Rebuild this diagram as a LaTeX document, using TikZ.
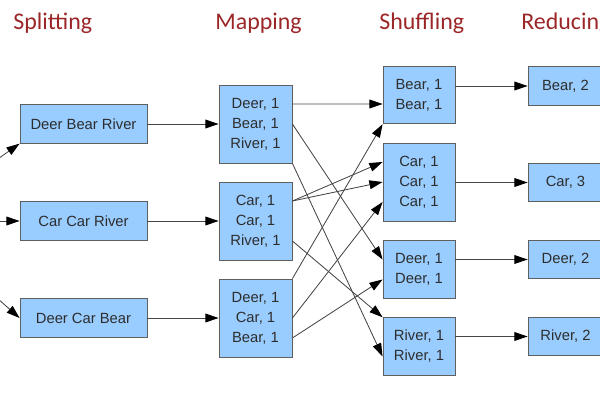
\documentclass[tikz,border=0pt]{standalone}
\usepackage{fontspec}
\setmainfont{Liberation Sans}
\newfontfamily\headfont{Carlito}
\usetikzlibrary{arrows.meta}

\definecolor{boxfill}{RGB}{153,204,255}
\definecolor{boxline}{RGB}{95,95,95}
\definecolor{boxtext}{RGB}{45,45,45}
\definecolor{linkgray}{RGB}{70,70,70}
\definecolor{headred}{RGB}{155,38,40}

\begin{document}
\begin{tikzpicture}
         [x=0.25mm,y=-0.25mm,
          every node/.style={draw=boxline,line width=0.6pt,fill=boxfill,text=boxtext,
                             inner sep=0pt,align=center,font=\fontsize{10.5}{14.2}\selectfont},
          splitbox/.style={minimum width=31.75mm,minimum height=9.6mm},
          mapbox/.style={minimum width=18.25mm,minimum height=19.5mm},
          shufbox/.style={minimum width=18mm,minimum height=14.4mm},
          redbox/.style={minimum width=18.75mm,minimum height=9.6mm},
          header/.style={draw=none,fill=none,text=headred,anchor=base west,
                         font=\headfont\fontsize{17}{20}\selectfont},
          link/.style={draw=linkgray,line width=0.6pt,-{Triangle[length=3.3mm,width=2.2mm,color=black]}}]
         \clip (0,0) rectangle (600,400);

         \node[header] (hSplit) at (13,29)  {Splitting};
         \node[header] (hMap)   at (215,29) {Mapping};
         \node[header] (hShuf)  at (379,29) {Shuffling};
         \node[header] (hRed)   at (521,29) {Reducing};

         \coordinate (input) at (-90,221);

         \node[splitbox] (split1) at (83.5,124) {Deer Bear River};
         \node[splitbox] (split2) at (83.5,221) {Car Car River};
         \node[splitbox] (split3) at (83.5,318) {Deer Car Bear};

         \node[mapbox] (map1) at (255.5,124) {Deer, 1\\Bear, 1\\River, 1};
         \node[mapbox] (map2) at (255.5,221) {Car, 1\\Car, 1\\River, 1};
         \node[mapbox] (map3) at (255.5,318) {Deer, 1\\Car, 1\\Bear, 1};

         \node[shufbox] (shuf1) at (419,95)    {Bear, 1\\Bear, 1};
         \node[shufbox,minimum height=19.5mm] (shuf2) at (419,182) {Car, 1\\Car, 1\\Car, 1};
         \node[shufbox] (shuf3) at (419,269.5) {Deer, 1\\Deer, 1};
         \node[shufbox] (shuf4) at (419,346.5) {River, 1\\River, 1};

         \node[redbox] (red1) at (565.5,86)    {Bear, 2};
         \node[redbox] (red2) at (565.5,182.5) {Car, 3};
         \node[redbox] (red3) at (565.5,259.5) {Deer, 2};
         \node[redbox] (red4) at (565.5,336.5) {River, 2};

         \foreach \from/\to in {input/split1.south west,input/split2.west,input/split3.west,
                                split1/map1,split2/map2,split3/map3}
             \draw[link] (\from) -- (\to);

         % mapped pairs go to their shuffle box (shift of the port in mm)
         \foreach \from/\fy/\to/\ty in {map1.east/5/shuf1.west/-2.25,
                                        map1.east/0/shuf3.west/2.5,
                                        map1.south east/0/shuf4.west/-2.5,
                                        map2.east/5/shuf2.west/5,
                                        map2.east/5/shuf2.west/0,
                                        map2.east/-5/shuf4.north west/0,
                                        map3.north east/0/shuf1.south west/0,
                                        map3.east/0/shuf2.west/-5,
                                        map3.east/-5/shuf3.west/-2.5}
             \draw[link] ([yshift=\fy mm]\from) -- ([yshift=\ty mm]\to);

         \foreach \n in {1,2,3,4}
             \draw[link] (shuf\n.east |- red\n.west) -- (red\n.west);

     \end{tikzpicture}
\end{document}
